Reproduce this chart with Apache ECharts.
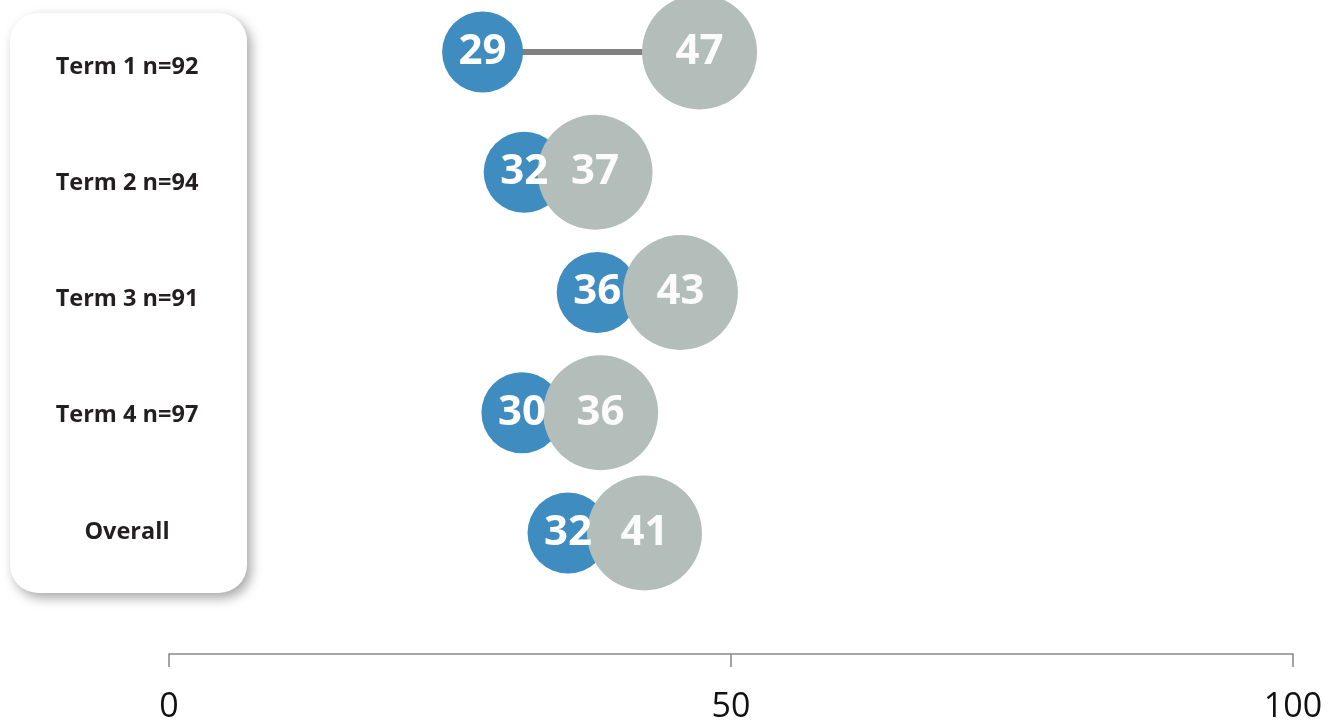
<!DOCTYPE html>
<html>
<head>
<meta charset="utf-8">
<script src="https://cdn.jsdelivr.net/npm/echarts@6/dist/echarts.min.js"></script>
<style>
html,body{margin:0;padding:0;background:#fff;}
#chart{width:1340px;height:727px;}
</style>
</head>
<body>
<div id="chart"></div>
<script>
// Data
var categories = ['Term 1 n=92', 'Term 2 n=94', 'Term 3 n=91', 'Term 4 n=97', 'Overall'];
var bluePos = [27.9, 31.6, 38.1, 31.4, 35.5];     // plotted positions
var blueLabels = [29, 32, 36, 30, 32];            // printed values
var grayPos = [47.2, 37.9, 45.5, 38.4, 42.3];
var grayLabels = [47, 37, 43, 36, 41];
var xTicks = [0, 50, 100];

var chart = echarts.init(document.getElementById('chart'));

var blueData = categories.map(function (c, i) { return {value: [bluePos[i], c], label: {formatter: String(blueLabels[i])}}; });
var grayData = categories.map(function (c, i) { return {value: [grayPos[i], c], label: {formatter: String(grayLabels[i])}}; });
var lineData = categories.map(function (c, i) { return [{coord: [bluePos[i], c]}, {coord: [grayPos[i], c]}]; });

var numFont = {fontFamily: 'Open Sans', fontWeight: 'bold', fontSize: 42};

chart.setOption({
  backgroundColor: '#ffffff',
  animation: false,
  graphic: [{
    type: 'rect', z: -10, left: 10, top: 13,
    shape: {width: 237, height: 580, r: 28},
    style: {fill: '#ffffff', shadowBlur: 12, shadowOffsetX: 4, shadowOffsetY: 5, shadowColor: 'rgba(0,0,0,0.35)'}
  }],
  grid: [
    {left: 169, right: 47, top: 52, bottom: 194},
    {left: 247, width: 1, top: 67, bottom: 195}
  ],
  xAxis: [{
    gridIndex: 0, type: 'value', min: 0, max: 100, interval: 50,
    position: 'bottom', offset: 121,
    axisLine: {show: true, lineStyle: {color: '#888888', width: 1.5}},
    axisTick: {show: true, length: 13, lineStyle: {color: '#888888', width: 1.5}},
    splitLine: {show: false},
    axisLabel: {color: '#111111', fontFamily: 'Open Sans', fontSize: 34, margin: 36,
      formatter: function (v) { return xTicks.indexOf(v) >= 0 ? String(v) : ''; }}
  }, {
    gridIndex: 1, type: 'value', show: false
  }],
  yAxis: [{
    gridIndex: 0, type: 'category', data: categories, inverse: true, boundaryGap: false,
    show: false
  }, {
    gridIndex: 1, type: 'category', data: categories, inverse: true, boundaryGap: false,
    axisLine: {show: false}, axisTick: {show: false}, splitLine: {show: false},
    axisLabel: {align: 'center', margin: 120, color: '#231F20', fontFamily: 'Open Sans', fontWeight: 'bold', fontSize: 23.5}
  }],
  series: [
    {
      type: 'lines', coordinateSystem: 'cartesian2d', xAxisIndex: 0, yAxisIndex: 0, z: 1,
      data: lineData, lineStyle: {color: '#808080', width: 6, opacity: 1}, symbol: 'none'
    },
    {
      type: 'scatter', xAxisIndex: 0, yAxisIndex: 0, z: 2,
      data: blueData, symbolSize: 81, itemStyle: {color: '#3F8CC1', opacity: 1},
      label: {show: false}
    },
    {
      type: 'scatter', xAxisIndex: 0, yAxisIndex: 0, z: 3,
      data: grayData, symbolSize: 115, itemStyle: {color: '#B3BDBA', opacity: 1},
      label: Object.assign({show: true, position: 'inside', color: 'rgba(255,255,255,0.93)'}, numFont)
    },
    {
      type: 'scatter', xAxisIndex: 0, yAxisIndex: 0, z: 4,
      data: blueData, symbolSize: 1, itemStyle: {color: '#3F8CC1', opacity: 1},
      label: Object.assign({show: true, position: 'inside', color: '#ffffff', textBorderWidth: 0, opacity: 1}, numFont)
    }
  ]
});
</script>
</body>
</html>
